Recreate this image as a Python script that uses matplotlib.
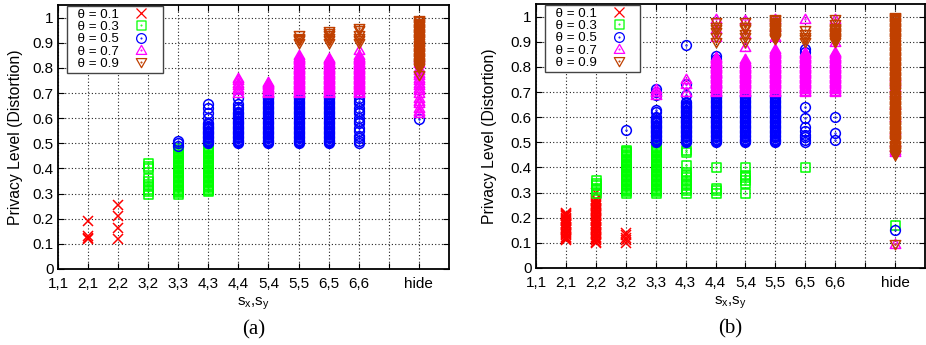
import matplotlib
matplotlib.use("Agg")
import matplotlib.pyplot as plt
from matplotlib.path import Path
from matplotlib.lines import Line2D

plt.rcParams['font.family'] = ['Liberation Sans', 'DejaVu Sans']
plt.rcParams['mathtext.fontset'] = 'custom'
plt.rcParams['mathtext.rm'] = 'Liberation Sans'
plt.rcParams['mathtext.it'] = 'Liberation Sans'

# ── data ─────────────────────────────────────────────────────────────────────
categories = ['1,1', '2,1', '2,2', '3,2', '3,3', '4,3', '4,4', '5,4', '5,5', '6,5', '6,6', '', 'hide']
thetas = ['0.1', '0.3', '0.5', '0.7', '0.9']

# densely sampled distortion bands (read as solid columns in the picture)
band_01 = [0.100, 0.105, 0.110, 0.115, 0.120, 0.125, 0.130, 0.135, 0.140, 0.145,
           0.150, 0.155, 0.160, 0.165, 0.170, 0.175, 0.180, 0.185, 0.190, 0.195,
           0.200, 0.205, 0.210, 0.215, 0.220, 0.225, 0.230, 0.235, 0.240, 0.245,
           0.250, 0.255, 0.260, 0.265, 0.270, 0.275, 0.280, 0.285, 0.290]
band_03 = [0.300, 0.305, 0.310, 0.315, 0.320, 0.325, 0.330, 0.335, 0.340, 0.345,
           0.350, 0.355, 0.360, 0.365, 0.370, 0.375, 0.380, 0.385, 0.390, 0.395,
           0.400, 0.405, 0.410, 0.415, 0.420, 0.425, 0.430, 0.435, 0.440, 0.445,
           0.450, 0.455, 0.460, 0.465, 0.470, 0.475, 0.480, 0.485, 0.490]
band_05 = [0.500, 0.505, 0.510, 0.515, 0.520, 0.525, 0.530, 0.535, 0.540, 0.545,
           0.550, 0.555, 0.560, 0.565, 0.570, 0.575, 0.580, 0.585, 0.590, 0.595,
           0.600, 0.605, 0.610, 0.615, 0.620, 0.625, 0.630, 0.635, 0.640, 0.645,
           0.650, 0.655, 0.660, 0.665, 0.670, 0.675, 0.680, 0.685, 0.690]
band_07 = [0.700, 0.705, 0.710, 0.715, 0.720, 0.725, 0.730, 0.735, 0.740, 0.745,
           0.750, 0.755, 0.760, 0.765, 0.770, 0.775, 0.780, 0.785, 0.790, 0.795,
           0.800, 0.805, 0.810, 0.815, 0.820, 0.825, 0.830, 0.835, 0.840, 0.845,
           0.850, 0.855, 0.860, 0.865, 0.870, 0.875, 0.880, 0.885, 0.890]
band_09 = [0.900, 0.905, 0.910, 0.915, 0.920, 0.925, 0.930, 0.935, 0.940, 0.945,
           0.950, 0.955, 0.960, 0.965, 0.970, 0.975, 0.980, 0.985, 0.990, 0.995, 1.000]

# panel (a)
a_t01 = {'2,1': [0.12, 0.125, 0.13, 0.19],
         '2,2': [0.12, 0.165, 0.21, 0.255]}
a_t03 = {'3,2': [0.30, 0.31, 0.32, 0.33, 0.34, 0.35, 0.36, 0.40, 0.41, 0.42],
         '3,3': band_03[:37],
         '4,3': band_03[2:]}
a_t05 = {'3,3': [0.49, 0.50, 0.51],
         '4,3': band_05[:17] + [0.60, 0.62, 0.64, 0.655],
         '4,4': band_05[:26] + [0.635, 0.645, 0.655, 0.68],
         '5,4': band_05, '5,5': band_05, '6,5': band_05,
         '6,6': [0.50, 0.51, 0.52, 0.53, 0.55, 0.56, 0.58, 0.59, 0.60, 0.62,
                 0.63, 0.64, 0.66, 0.67, 0.68],
         'hide': [0.595]}
a_t07 = {'4,4': [0.70, 0.71, 0.72, 0.73, 0.74, 0.75, 0.76],
         '5,4': band_07[:10],
         '5,5': band_07[:31],
         '6,5': band_07[:29],
         '6,6': band_07[:31] + [0.87],
         'hide': [0.62, 0.63, 0.64, 0.66, 0.67, 0.68, 0.70, 0.71, 0.72, 0.73,
                  0.74, 0.75, 0.76, 0.77, 0.78, 0.79, 0.80, 0.82, 0.84]}
a_t09 = {'5,5': [0.90, 0.91, 0.915, 0.92, 0.93],
         '6,5': [0.90, 0.91, 0.92, 0.93, 0.94, 0.945],
         '6,6': [0.90, 0.91, 0.92, 0.93, 0.95, 0.96],
         'hide': [0.77] + band_07[20:] + band_09[:19]}

# panel (b)
b_t01 = {'2,1': band_01[2:25],
         '2,2': band_01[:36] + [0.30],
         '3,2': [0.10, 0.11, 0.12, 0.13, 0.14]}
b_t03 = {'2,2': [0.30, 0.31, 0.32, 0.33, 0.34, 0.35],
         '3,2': band_03[:35],
         '3,3': band_03[:37],
         '4,3': [0.30, 0.31, 0.32, 0.33, 0.34, 0.35, 0.36, 0.37, 0.38, 0.41, 0.46, 0.47],
         '4,4': [0.30, 0.31, 0.32, 0.40],
         '5,4': [0.30, 0.34, 0.35, 0.36, 0.37, 0.40],
         '6,5': [0.40],
         'hide': [0.17]}
b_t05 = {'3,2': [0.55],
         '3,3': band_05[:21] + [0.62, 0.63, 0.69, 0.70, 0.71],
         '4,3': band_05[:33] + [0.69, 0.73, 0.885],
         '4,4': band_05 + [0.72, 0.76, 0.80, 0.83, 0.845],
         '5,4': band_05, '5,5': band_05,
         '6,5': [0.50, 0.51, 0.52, 0.53, 0.545, 0.56, 0.595, 0.64, 0.86, 0.87],
         '6,6': [0.51, 0.535, 0.60],
         'hide': [0.15]}
b_t07 = {'3,3': [0.69, 0.70, 0.71],
         '4,3': [0.70, 0.73, 0.75],
         '4,4': band_07[:29] + [0.92, 0.95, 0.99],
         '5,4': band_07[:27] + [0.88, 0.93, 0.985],
         '5,5': band_07[:35] + [0.92, 0.96, 0.99],
         '6,5': band_07[:33] + [0.99],
         '6,6': band_07[:33] + [0.90, 0.99],
         'hide': [0.095, 0.46, 0.47, 0.48, 0.50, 0.55, 0.60, 0.65, 0.70, 0.72, 0.74, 0.76]}
b_t09 = {'4,4': [0.90, 0.92, 0.94, 0.95, 0.96, 0.98],
         '5,4': [0.90, 0.92, 0.93, 0.95, 0.96, 0.98],
         '5,5': band_09[2:19],
         '6,5': [0.90, 0.91, 0.92, 0.93, 0.945],
         '6,6': band_09[:12] + [0.97, 0.99],
         'hide': [0.095] + band_03[30:] + band_05 + band_07 + band_09}

# ── styles (gnuplot look) ────────────────────────────────────────────────────
_COLORS = ['#ff0000', '#00ff00', '#0000ff', '#ff00ff', '#c04000']


def _with_dot(verts):
    shape = Path(verts + [verts[0]], closed=True)
    dot = Path.circle((0, 0), 0.08)
    return Path.make_compound_path(shape, dot)


_SQUARE = _with_dot([(-1, -1), (1, -1), (1, 1), (-1, 1)])
_CIRCLE = Path.make_compound_path(Path.circle((0, 0), 1.0), Path.circle((0, 0), 0.08))
_TRI_UP = _with_dot([(0, 1), (-1, -0.75), (1, -0.75)])
_TRI_DN = _with_dot([(0, -1), (1, 0.75), (-1, 0.75)])
_MARKERS = ['x', _SQUARE, _CIRCLE, _TRI_UP, _TRI_DN]
_MSIZE = [7.5, 6.5, 7.0, 7.5, 7.5]
_MEW = 1.1


def draw_panel(ax, series, letter, ylabel_x):
    for k, data in enumerate(series):
        for cat, vals in data.items():
            x = [categories.index(cat)] * len(vals)
            ax.plot(x, vals, linestyle='none', marker=_MARKERS[k],
                    markersize=_MSIZE[k], markerfacecolor='none',
                    markeredgecolor=_COLORS[k], markeredgewidth=_MEW,
                    clip_on=False)

    ax.set_xlim(0, 13)
    ax.set_ylim(0, 1.05)
    ax.set_xticks(range(len(categories)))
    ax.set_xticklabels(categories, fontsize=11)
    ax.set_yticks([i / 10 for i in range(11)])
    ax.set_yticklabels(['0'] + ['0.%d' % i for i in range(1, 10)] + ['1'], fontsize=11)
    ax.tick_params(direction='in', length=4, width=0.8, top=True, right=True, pad=3)
    ax.tick_params(axis='x', pad=6)
    ax.grid(True, color='#222222', linestyle=(0, (1, 2)), linewidth=0.8)
    for sp in ax.spines.values():
        sp.set_linewidth(1.3)
    ax.set_xlabel(r'$\mathregular{s_x}$,$\mathregular{s_y}$', fontsize=11, labelpad=3)
    ax.set_ylabel('Privacy Level (Distortion)', fontsize=11.3)
    ax.yaxis.set_label_coords(ylabel_x, 0.5)
    ax.text(0.5, -0.195, '(%s)' % letter, transform=ax.transAxes, ha='center', va='top',
            fontsize=15, family=['Liberation Serif', 'DejaVu Serif'])

    handles = [Line2D([], [], linestyle='none', marker=_MARKERS[k], markersize=_MSIZE[k],
                      markerfacecolor='none', markeredgecolor=_COLORS[k],
                      markeredgewidth=0.9) for k in range(5)]
    labels = ['  θ = %s' % t for t in thetas]
    leg = ax.legend(handles, labels, loc='upper left', bbox_to_anchor=(0.023, 0.997),
                    markerfirst=False, fontsize=9.6, labelspacing=0.0,
                    handlelength=2.8, handletextpad=0.3, borderpad=0.2,
                    borderaxespad=0.0, fancybox=False, framealpha=1.0)
    leg.get_frame().set_edgecolor('#444444')
    leg.get_frame().set_linewidth(1.0)


fig = plt.figure(figsize=(9.26, 3.45), dpi=100)
ax_a = fig.add_axes([0.0626, 0.2203, 0.4222, 0.7652])
ax_b = fig.add_axes([0.5788, 0.2232, 0.4201, 0.7652])

draw_panel(ax_a, [a_t01, a_t03, a_t05, a_t07, a_t09], 'a', -0.09)
draw_panel(ax_b, [b_t01, b_t03, b_t05, b_t07, b_t09], 'b', -0.10)

fig.savefig('out.png', dpi=100)
